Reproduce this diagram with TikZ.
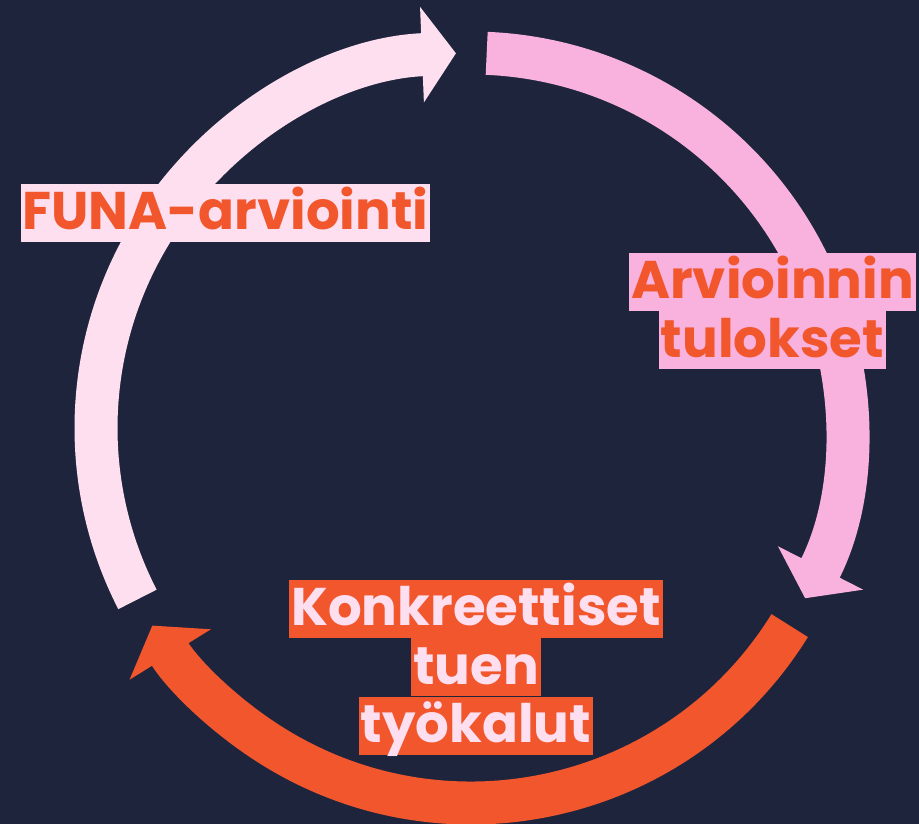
\documentclass[tikz,border=0pt]{standalone}
\usepackage{fontspec}
\setmainfont{Poppins}
\usetikzlibrary{positioning, arrows.meta}

\definecolor{navy}{HTML}{1F243D}
\definecolor{lightpink}{HTML}{FDDFF0}
\definecolor{midpink}{HTML}{F8B2DD}
\definecolor{funaorange}{HTML}{F1562D}

\begin{document}
\begin{tikzpicture}[x=1pt, y=1pt] %FUNA-kierros
	\tikzstyle{cyclearrow} = [line width=43pt, -{Triangle[length=34pt, width=94pt]}]
	\tikzstyle{labelbox} = [font=\bfseries\fontsize{53}{58}\selectfont, text height=46pt, text depth=12pt, inner xsep=2pt, inner ysep=0pt]
	\fill[navy] (-471,-396) rectangle (448,428);
	\useasboundingbox (-471,-396) rectangle (448,428);
	\coordinate (C) at (0,0);
	% kolme kaarta
	\foreach \col/\from/\to in {lightpink/-152.8/-267.7, midpink/87.6/-27, funaorange/-31.8/-148.2}
	{
		\draw[cyclearrow, \col] (C) ++(\from:375pt) arc[start angle=\from, end angle=\to, radius=375pt];
	}
	% tekstit
	\node[labelbox, fill=lightpink, text=funaorange, anchor=base] (funa) at (-245.5,198) {FUNA-arviointi};
	\node[labelbox, fill=midpink, text=funaorange, anchor=base] (arv) at (301.5,129) {Arvioinnin};
	\node[labelbox, fill=midpink, text=funaorange, below=0pt of arv] (tul) {tulokset};
	\node[labelbox, fill=funaorange, text=lightpink, anchor=base] (konk) at (5,-198) {Konkreettiset};
	\node[labelbox, fill=funaorange, text=lightpink, below=0pt of konk] (tuen) {tuen};
	\node[labelbox, fill=funaorange, text=lightpink, below=0pt of tuen] (tyok) {työkalut};
\end{tikzpicture}
\end{document}
